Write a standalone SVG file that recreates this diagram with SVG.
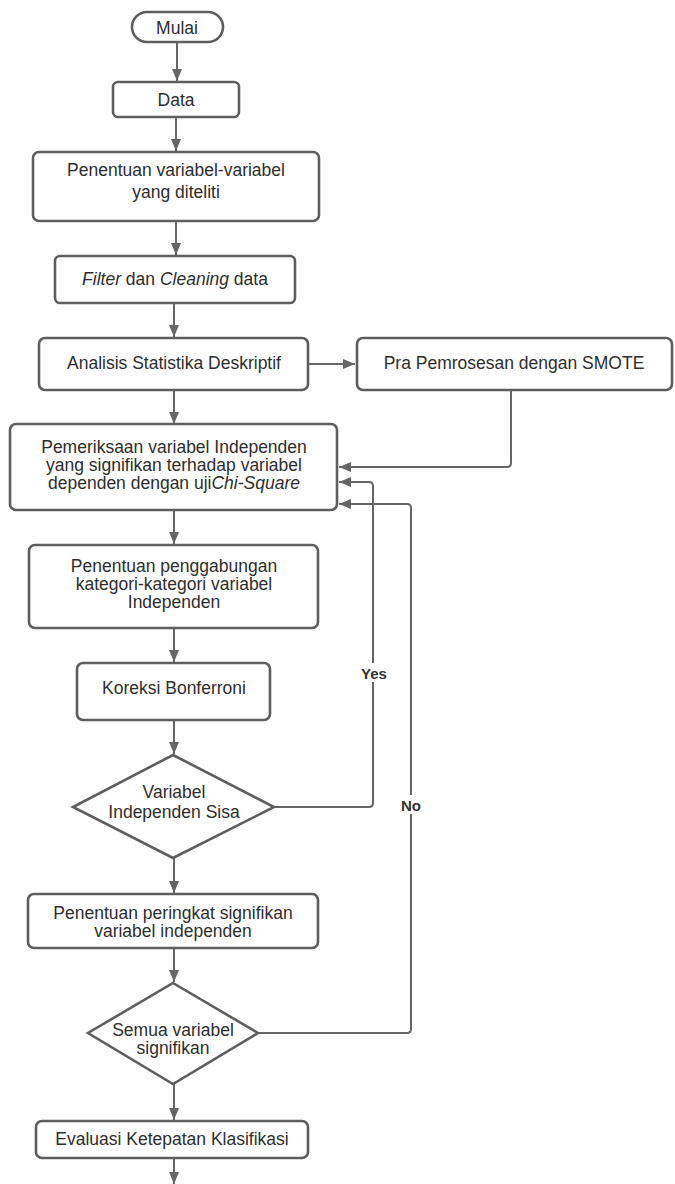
<svg xmlns="http://www.w3.org/2000/svg" width="675" height="1184" viewBox="0 0 675 1184">
<style>
.box{fill:#fff;stroke:#5e5e5e;stroke-width:2.6}
.t{font-family:"Liberation Sans",Arial,sans-serif;font-size:17.5px;fill:#2e2e2e;text-anchor:middle}
.lbl{font-family:"Liberation Sans",Arial,sans-serif;font-size:15px;font-weight:bold;fill:#333;text-anchor:middle}
.c{fill:none;stroke:#666;stroke-width:2;stroke-linejoin:round}
</style>
<defs>
<marker id="ah" viewBox="0 0 12 10" refX="12" refY="5" markerWidth="12" markerHeight="10" markerUnits="userSpaceOnUse" orient="auto">
<path d="M0,0 L12,5 L0,10 Z" fill="#666"/>
</marker>
</defs>
<rect width="675" height="1184" fill="#fff"/>
<g id="connectors">
<path class="c" d="M177,42 V81" marker-end="url(#ah)"/>
<path class="c" d="M176,117 V151" marker-end="url(#ah)"/>
<path class="c" d="M176,221 V255" marker-end="url(#ah)"/>
<path class="c" d="M174,303 V337" marker-end="url(#ah)"/>
<path class="c" d="M308,364 H355" marker-end="url(#ah)"/>
<path class="c" d="M174,390 V424" marker-end="url(#ah)"/>
<path class="c" d="M511,390 V463 Q511,467 507,467 H339" marker-end="url(#ah)"/>
<path class="c" d="M174,510 V544" marker-end="url(#ah)"/>
<path class="c" d="M174,628 V662" marker-end="url(#ah)"/>
<path class="c" d="M174,720 V754" marker-end="url(#ah)"/>
<path class="c" d="M274,807 H369 Q373,807 373,803 V486 Q373,482 369,482 H339" marker-end="url(#ah)"/>
<path class="c" d="M174,858 V893" marker-end="url(#ah)"/>
<path class="c" d="M174,948 V982" marker-end="url(#ah)"/>
<path class="c" d="M258,1033 H407 Q411,1033 411,1029 V508 Q411,504 407,504 H339" marker-end="url(#ah)"/>
<path class="c" d="M174,1084 V1120" marker-end="url(#ah)"/>
<path class="c" d="M174,1158 V1184" marker-end="url(#ah)"/>
<rect x="359" y="663" width="30" height="19" fill="#fff"/>
<text class="lbl" x="374" y="679">Yes</text>
<rect x="398" y="795" width="26" height="19" fill="#fff"/>
<text class="lbl" x="411" y="811">No</text>
</g>
<g id="mulai">
<rect class="box" x="132" y="12" width="91" height="30" rx="15"/>
<text class="t" x="177" y="34">Mulai</text>
</g>
<g id="data">
<rect class="box" x="113" y="82" width="126" height="35" rx="5"/>
<text class="t" x="176" y="106">Data</text>
</g>
<g id="penentuan-variabel">
<rect class="box" x="33" y="152" width="286" height="69" rx="6"/>
<text class="t" x="176" y="176">Penentuan variabel-variabel</text>
<text class="t" x="176" y="198">yang diteliti</text>
</g>
<g id="filter">
<rect class="box" x="55" y="256" width="240" height="47" rx="5"/>
<text class="t" x="175" y="285"><tspan font-style="italic">Filter</tspan> dan <tspan font-style="italic">Cleaning</tspan> data</text>
</g>
<g id="analisis">
<rect class="box" x="39" y="338" width="269" height="52" rx="6"/>
<text class="t" x="174" y="369">Analisis Statistika Deskriptif</text>
</g>
<g id="smote">
<rect class="box" x="357" y="338" width="315" height="52" rx="6"/>
<text class="t" x="514" y="369">Pra Pemrosesan dengan SMOTE</text>
</g>
<g id="pemeriksaan">
<rect class="box" x="10" y="424" width="327" height="86" rx="6"/>
<text class="t" x="174" y="453">Pemeriksaan variabel Independen</text>
<text class="t" x="174" y="471">yang signifikan terhadap variabel</text>
<text class="t" x="174" y="489">dependen dengan uji<tspan font-style="italic">Chi-Square</tspan></text>
</g>
<g id="penggabungan">
<rect class="box" x="29" y="545" width="289" height="83" rx="6"/>
<text class="t" x="174" y="572">Penentuan penggabungan</text>
<text class="t" x="174" y="590">kategori-kategori variabel</text>
<text class="t" x="174" y="608">Independen</text>
</g>
<g id="koreksi">
<rect class="box" x="77" y="663" width="193" height="57" rx="6"/>
<text class="t" x="174" y="694">Koreksi Bonferroni</text>
</g>
<g id="sisa">
<polygon class="box" points="173,755 274,807 173,858 73,807"/>
<text class="t" x="174" y="798" fill="#444">Variabel</text>
<text class="t" x="174" y="818" fill="#444">Independen Sisa</text>
</g>
<g id="peringkat">
<rect class="box" x="28" y="894" width="290" height="54" rx="6"/>
<text class="t" x="173" y="919">Penentuan peringkat signifikan</text>
<text class="t" x="173" y="937">variabel independen</text>
</g>
<g id="semua">
<polygon class="box" points="173,983 258,1033 173,1084 88,1033"/>
<text class="t" x="173" y="1036">Semua variabel</text>
<text class="t" x="173" y="1054">signifikan</text>
</g>
<g id="evaluasi">
<rect class="box" x="36" y="1121" width="272" height="37" rx="6"/>
<text class="t" x="172" y="1145">Evaluasi Ketepatan Klasifikasi</text>
</g>
</svg>
